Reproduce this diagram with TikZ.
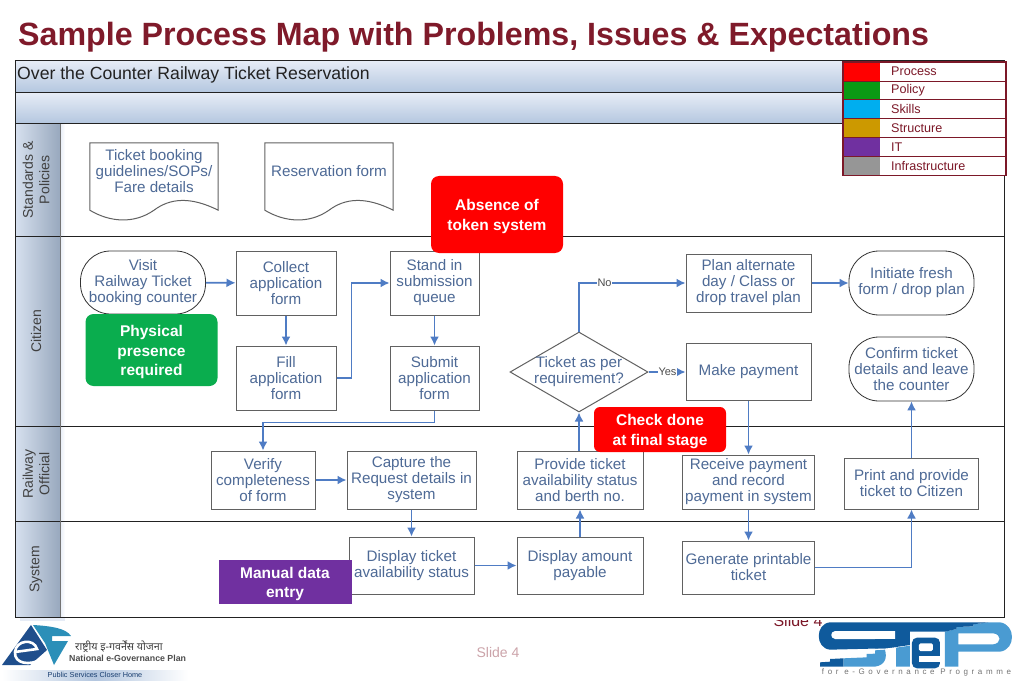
\documentclass[tikz,border=0pt]{standalone}
\usepackage{fontspec}
\setmainfont{Liberation Sans}
\newfontfamily\hindifont[Script=Devanagari]{Noto Sans}
\usetikzlibrary{arrows.meta,calc,shapes.geometric,positioning}
\definecolor{ttl}{HTML}{7F1A2A}
\definecolor{txb}{HTML}{4E6A96}
\definecolor{arw}{HTML}{4F7CC4}
\definecolor{lnd}{HTML}{222222}
\definecolor{hdt}{HTML}{E6ECF6}
\definecolor{hdb}{HTML}{B3C6DF}
\definecolor{lgd}{HTML}{7C1828}
\definecolor{lgred}{HTML}{FF0000}
\definecolor{lggrn}{HTML}{0A9A14}
\definecolor{lgsky}{HTML}{00AEEF}
\definecolor{lgbrn}{HTML}{CC9900}
\definecolor{lgpur}{HTML}{7030A0}
\definecolor{lggry}{HTML}{969696}
\definecolor{ntgrn}{HTML}{0AAD4E}
\definecolor{ntpur}{HTML}{7030A0}
\definecolor{dkb}{HTML}{0F5A9C}
\definecolor{ltb}{HTML}{4A9BD2}
\definecolor{teg}{HTML}{2B8FB8}
\definecolor{neg}{HTML}{1F4E8C}
\tikzset{
  sz/.style 2 args={minimum width=#1pt,minimum height=#2pt},
  txt/.style={font=\fontsize{15.2}{16}\selectfont,text=txb,align=center,inner sep=0pt},
  bx/.style={txt,rectangle,draw=black!62,fill=white,line width=1pt},
  trm/.style={txt,rectangle,draw=black!80,fill=white,line width=.8pt,rounded corners=30pt},
  dsn/.style={txt,diamond,aspect=1.75,draw=black!62,fill=white,line width=1pt,inner sep=-1.5pt},
  dcn/.style={rectangle,inner sep=0pt},
  dcl/.style={draw=black!62,line width=1pt,fill=white},
  nte/.style={rectangle,inner sep=0pt},
  ntx/.style={font=\fontsize{15.5}{19.5}\selectfont\bfseries,text=white,align=center,inner sep=0pt,yshift=-2pt},
  lnk/.style={-{Latex[length=9pt,width=9pt]},draw=arw,line width=1.6pt},
  lne/.style={draw=lnd,line width=1pt},
  lnl/.style={font=\fontsize{14}{16.5}\selectfont,text=black!75,align=center,rotate=90,inner sep=0pt},
  lb/.style={font=\fontsize{11}{12}\selectfont,text=black!70,fill=white,inner sep=.6pt},
  lgt/.style={font=\fontsize{12.6}{14}\selectfont,text=lgd,anchor=west,inner sep=0pt},
}
\newcommand{\docwave}[1]{
  \draw[dcl] (#1.south west) -- (#1.north west) -- (#1.north east) -- (#1.south east)
    .. controls +(-28,-14) and +(16,-12) .. (#1.south)
    .. controls +(-20,14) and +(20,12) .. (#1.south west) -- cycle;
}
\begin{document}
\begin{tikzpicture}[x=1pt,y=-1pt]
\useasboundingbox (0,0) rectangle (1023,682);
% ---- heading
\node[font=\fontsize{32.2}{36}\selectfont\bfseries,text=ttl,anchor=base west,inner sep=0pt] (title) at (18,46)
  {Sample Process Map with Problems, Issues \& Expectations};
% ---- cut off by the frame
\node[font=\fontsize{16}{18}\selectfont,text=lgd,inner sep=0pt] (slidea) at (798,621) {Slide 4};
% ---- lanes
\fill[white] (15,61) rectangle (1004,620);
\shade[top color=hdt,bottom color=hdb] (15,61) rectangle (1004,93);
\shade[top color=hdt,bottom color=hdb] (15,93) rectangle (1004,124);
\shade[left color=hdt!70!hdb,right color=hdb!85!black] (15,124) rectangle (60,617);
\shade[left color=hdt,right color=white] (60,124) rectangle (65,617);
\fill[hdt] (20,617) rectangle (65,621);
\draw[lne] (15,93) -- (1004,93) (15,124) -- (1004,124) (15,236) -- (1004,236)
  (15,426) -- (1004,426) (15,521) -- (1004,521);
\draw[draw=black!55,line width=1pt] (60,124) -- (60,617);
\draw[lne] (15,61) rectangle (1004,617);
\node[font=\fontsize{17.65}{20}\selectfont,text=lnd,anchor=west,inner sep=0pt] (head) at (17,75)
  {Over the Counter Railway Ticket Reservation};
\node[lnl] (lstd) at (36,180) {Standards \&\\Policies};
\node[lnl] (lcit) at (36,331) {Citizen};
\node[lnl] (lrwy) at (36,474) {Railway\\Official};
\node[lnl] (lsys) at (36,569) {System};
% ---- legend
\fill[white] (843,62) rectangle (1006,175.5);
\foreach \lgn/\clr [count=\i from 0] in {Process/lgred,Policy/lggrn,Skills/lgsky,Structure/lgbrn,IT/lgpur,Infrastructure/lggry}{
  \fill[\clr] (843,62+18.9*\i) rectangle (880,62+18.9+18.9*\i);
  \draw[draw=lgd,line width=.7pt] (843,62+18.9*\i) -- (1006,62+18.9*\i);
  \node[lgt] (lg\i) at (891,71.5+18.9*\i) {\lgn};
}
\draw[draw=lgd,line width=1.2pt] (843,62) rectangle (1006,175.5);
% ---- documents
\node[dcn,sz={128}{67}] (gdl) at (154,176.5) {}; \docwave{gdl}
\node[dcn,sz={128}{67}] (frm) at (329,176.5) {}; \docwave{frm}
\node[txt] (gdlt) at (154,171) {Ticket booking\\guidelines/SOPs/\\Fare details};
\node[txt] (frmt) at (329,171) {Reservation form};
% ---- citizen
\node[trm,sz={125}{63}] (visit) at (143,282.5) {Visit\\Railway Ticket\\booking counter};
\node[bx,sz={100}{64}] (collect) at (286,283) {Collect\\application\\form};
\node[bx,sz={100}{64}] (fill) at (286,378) {Fill\\application\\form};
\node[bx,sz={89}{64}] (stand) at (434.5,283) {Stand in\\submission\\queue};
\node[bx,sz={89}{64}] (submit) at (434.5,378) {Submit\\application\\form};
\node[dsn,sz={138}{80}] (dsn) at (579,372) {Ticket as per\\requirement?};
\node[bx,sz={125}{58}] (plan) at (748.5,283) {Plan alternate\\day / Class or\\drop travel plan};
\node[bx,sz={125}{57}] (pay) at (748.5,372) {Make payment};
\node[trm,sz={125}{64}] (fresh) at (911.5,283) {Initiate fresh\\form / drop plan};
\node[trm,sz={125}{64}] (confirm) at (911.5,369) {Confirm ticket\\details and leave\\the counter};
% ---- railway official
\node[bx,sz={104}{58}] (verify) at (263,480) {Verify\\completeness\\of form};
\node[bx,sz={129}{58}] (capture) at (411.5,480) {Capture the\\Request details in\\system};
\node[bx,sz={126}{58}] (avail) at (580,480) {Provide ticket\\availability status\\and berth no.};
\node[bx,sz={132}{54}] (recv) at (748.5,482) {Receive payment\\and record\\payment in system};
\node[bx,sz={134}{51}] (print) at (911.5,483.5) {Print and provide\\ticket to Citizen};
% ---- system
\node[bx,sz={125}{57}] (disp) at (411.5,565.5) {Display ticket\\availability status};
\node[bx,sz={126}{57}] (amt) at (580,565.5) {Display amount\\payable};
\node[bx,sz={132}{53}] (gen) at (748.5,567.5) {Generate printable\\ticket};
% ---- connectors
\draw[lnk] (visit) -- (collect);
\draw[lnk] (collect) -- (fill);
\draw[lnk] (fill.east) -- ++(15,0) |- (stand.west);
\draw[lnk] (stand) -- (submit);
\draw[lnk] (submit.south) -- ++(0,12) -| (verify.north);
\draw[lnk] (verify) -- (capture);
\draw[lnk] (capture) -- (disp);
\draw[lnk] (disp) -- (amt);
\draw[lnk] (amt) -- (avail);
\draw[lnk] (dsn.south |- avail.north) -- (dsn.south);
\draw[lnk] (dsn.north) |- (plan.west) node[lb,pos=.62] (lno) {No};
\draw[lnk] (dsn.east) -- (pay.west) node[lb,midway,xshift=.5pt] (lyes) {Yes};
\draw[lnk] (plan) -- (fresh);
\draw[lnk] (pay) -- (recv);
\draw[lnk] (recv) -- (gen);
\draw[lnk] (gen.east) -| (print.south);
\draw[lnk] (print) -- (confirm);
% ---- problems
\node[nte,fill=lgred,rounded corners=8pt,sz={132}{77},label={[ntx]center:{Absence of\\token system}}] (token) at (497,214.5) {};
\node[nte,fill=ntgrn,rounded corners=8pt,sz={132}{72},label={[ntx]center:{Physical\\presence\\required}}] (phys) at (151.5,350) {};
\node[nte,fill=lgred,rounded corners=6pt,sz={132}{45},label={[ntx]center:{Check done\\at final stage}}] (check) at (660,429.5) {};
\node[nte,fill=ntpur,sz={133}{44},label={[ntx]center:{Manual data\\entry}}] (manual) at (285,582) {};
% ---- footer
\node[font=\fontsize{14}{16}\selectfont,text=lgd!40,inner sep=0pt] (slideb) at (498,652) {Slide 4};
% national plan logo
\fill[neg] (2,665) -- (31,625) -- (47,650) -- (30,665) -- cycle;
\fill[teg] (33,625) -- (45,643) -- (54,665) -- (68,641) -- (52,641) -- (52,636) -- (71,636) .. controls (66,628) and (50,626) .. (33,625) -- cycle;
\draw[white,line width=2.6pt] (15,652) -- (37,649) .. controls (34,638) and (16,640) .. (15,652) .. controls (14,664) and (30,666) .. (42,659);
\node[font=\fontsize{10.7}{12}\selectfont\hindifont,text=black!75,anchor=west,inner sep=0pt] (hin) at (75,647) {राष्ट्रीय इ-गवर्नेंस योजना};
\node[font=\fontsize{8.8}{12}\selectfont\bfseries,text=black!70,anchor=west,inner sep=0pt] (nep) at (69,658) {National e-Governance Plan};
\shade[left color=white,right color=white,middle color=hdb] (2,670) rectangle (188,680);
\node[font=\fontsize{7.3}{10}\selectfont,text=neg!80!black,inner sep=0pt] (psc) at (95,675) {Public Services Closer Home};
% programme logo
\begin{scope}[shift={(810,615)},x=.3333pt,y=-.3333pt]
\fill[ltb,even odd rule] (405,50) -- (440,42) -- (440,36) -- (490,34) -- (490,28) -- (535,22) -- (570,22)
  .. controls (618,28) and (618,104) .. (570,110) -- (445,110) -- (445,155) -- (405,155) -- cycle
  (445,55) -- (550,55) .. controls (575,58) and (575,85) .. (550,88) -- (445,88) -- cycle;
\fill[dkb] (60,22) -- (535,22) -- (490,28) -- (490,34) -- (440,36) -- (440,42) -- (405,50) -- (300,50) -- (300,90) -- (258,96) -- (225,100)
  -- (60,104) .. controls (15,100) and (15,26) .. (60,22) -- cycle;
\fill[white] (75,48) -- (255,48) -- (255,72) -- (75,72) .. controls (60,70) and (60,50) .. (75,48) -- cycle;
\fill[dkb] (195,72) -- (258,72) -- (258,96) -- (225,100) -- (195,100) -- cycle;
\fill[ltb] (100,130) -- (170,127) -- (170,117) -- (195,116) -- (195,106) -- (225,104) .. controls (232,130) and (225,150) .. (195,155) -- (100,155) -- cycle;
\fill[dkb] (30,155) -- (30,142) -- (60,140) -- (60,132) -- (100,130) -- (100,155) -- cycle;
\fill[ltb] (258,98) -- (300,92) -- (300,155) -- (258,155) -- cycle;
\fill[dkb,rounded corners=5pt] (306,68) rectangle (390,160);
\fill[white,rounded corners=1.5pt] (327,85) rectangle (369,108);
\fill[white] (327,124) rectangle (391,140);
\end{scope}
\node[font=\fontsize{8}{10}\selectfont\addfontfeature{LetterSpace=45},text=black!55,inner sep=0pt] (stp) at (916.5,672) {for e-Governance Programme};
\end{tikzpicture}
\end{document}
